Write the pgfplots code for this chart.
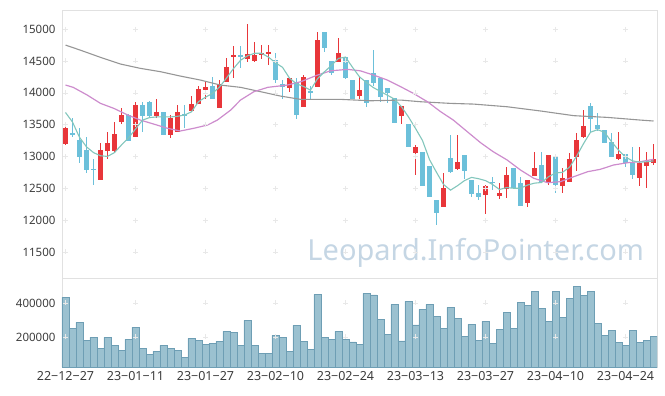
\documentclass[border=0pt]{standalone}
\usepackage{pgfplots}
\pgfplotsset{compat=1.18}
\usepackage{pgfplotstable}
\usepackage{fontspec}
\setmainfont{Noto Sans}
\definecolor{cup}{RGB}{232,54,58}
\definecolor{cdn}{RGB}{108,192,218}
\definecolor{maf}{RGB}{130,198,188}
\definecolor{mam}{RGB}{205,140,205}
\definecolor{mas}{RGB}{150,150,150}
\definecolor{volf}{RGB}{150,190,206}
\definecolor{vole}{RGB}{110,158,180}
\definecolor{gridc}{RGB}{225,225,225}
\definecolor{plusc}{RGB}{232,232,232}
\definecolor{labc}{RGB}{60,60,60}
\definecolor{wmc}{RGB}{197,214,228}

\pgfplotstableread{
i O H L C V
0 13195 13545 13180 13446 433500
1 13360 13603 13304 13345 251000
2 13257 13446 12896 12995 286500
3 13100 13304 12739 12786 180600
4 12805 12954 12551 12795 198000
5 12629 13205 12629 13100 133500
6 13090 13388 12954 13206 198000
7 13090 13545 13058 13351 151000
8 13545 13755 13509 13650 122000
9 13650 13670 13250 13250 186500
10 13300 13850 13300 13807 257000
11 13807 13850 13388 13640 133500
12 13860 13870 13600 13634 98000
13 13640 13896 13598 13697 116000
14 13700 13700 13340 13340 151000
15 13340 13645 13293 13598 133500
16 13388 13800 13388 13697 122000
17 13655 13802 13441 13645 80500
18 13717 13948 13717 13818 192000
19 13818 14105 13818 14058 180600
20 14050 14173 13901 14094 157000
21 14105 14242 13896 13896 163000
22 13755 14195 13755 14132 174700
23 14173 14540 14173 14398 233500
24 14565 14738 14226 14588 227600
25 14585 14738 14383 14570 151000
26 14524 15074 14487 14603 298000
27 14502 14800 14487 14592 151000
28 14587 14749 14524 14628 104000
29 14612 14749 14435 14644 104000
30 14513 14618 14147 14199 210000
31 14132 14199 13906 14094 198000
32 14079 14236 14010 14236 116000
33 14173 14226 13582 13650 268800
34 13780 14278 13780 14251 174700
35 14027 14105 13885 13990 127700
36 14094 14948 14094 14827 451000
37 14948 14948 14634 14697 198000
38 14498 14498 14278 14305 186500
39 14487 14866 14487 14618 233500
40 14556 14556 14210 14230 186500
41 14199 14199 13901 13901 170600
42 13945 14251 13905 14042 157000
43 14199 14199 13771 13834 457000
44 14304 14670 14113 14157 447000
45 14236 14236 13850 13937 304000
46 14073 14073 13846 14003 216000
47 13917 13917 13529 13529 392000
48 13640 13791 13506 13791 176500
49 13508 13508 13152 13152 410000
50 13058 13180 12708 13148 270600
51 13069 13069 12540 12540 363000
52 12852 12852 12367 12367 392000
53 12315 12315 11923 12116 321700
54 12198 12744 12198 12499 251000
55 12975 13336 12735 12750 374700
56 12802 13340 12786 12907 310000
57 13022 13022 12640 12775 204000
58 12629 12629 12358 12410 274700
59 12420 12551 12315 12367 180600
60 12394 12551 12091 12535 292000
61 12601 12672 12472 12590 163000
62 12378 12577 12331 12420 245000
63 12488 12838 12342 12708 345000
64 12813 12813 12499 12499 251000
65 12587 12681 12221 12221 404000
66 12264 12629 12201 12629 386500
67 12697 13064 12697 12822 469000
68 12865 13064 12603 12603 369000
69 12593 13022 12551 13022 292000
70 13011 13011 12421 12551 469000
71 12535 12813 12421 12656 316000
72 12603 13049 12603 12954 427600
73 12995 13372 12770 13257 498000
74 13309 13728 13284 13477 445000
75 13791 13833 13388 13582 469000
76 13493 13676 13404 13425 280600
77 13414 13414 13215 13215 210000
78 13221 13372 12995 12995 239400
79 12954 13388 12943 13038 169000
80 13038 13038 12838 12892 151000
81 12892 13143 12645 12708 239400
82 12656 13152 12540 12901 169000
83 12849 13074 12500 12917 180600
84 12901 13194 12865 12959 204000
}\ohlc

\pgfplotsset{
  base/.style={
    scale only axis, width=595pt,
    xmin=-0.5, xmax=84.5,
    axis line style={draw=gridc},
    major tick length=0pt,
    tick style={draw=none},
    ticklabel style={font=\fontsize{11.5}{13}\selectfont, text=labc},
    /pgf/number format/assume math mode=true,
    scaled ticks=false,
    xtick={0,10,20,30,40,50,60,70,80},
  },
  gridp/.style={only marks, mark=+, mark size=2.5pt, color=plusc, forget plot},
  cdl/.style={draw=none, mark=none, forget plot},
}

\begin{document}
\begin{tikzpicture}
\begin{axis}[base, name=top, height=268pt,
  ymin=11090, ymax=15300,
  ytick={11500,12000,12500,13000,13500,14000,14500,15000},
  yticklabels={11500,12000,12500,13000,13500,14000,14500,15000},
  xticklabels={},
  yticklabel style={xshift=-3pt}]
\pgfplotsinvokeforeach{11500,12000,12500,13000,13500,14000,14500,15000}{
  \addplot[gridp] coordinates {(0,#1)(10,#1)(20,#1)(30,#1)(40,#1)(50,#1)(60,#1)(70,#1)(80,#1)};
}
\node[text=wmc, font=\fontsize{29}{29}\selectfont] at (axis cs:58.6,11480) {Leopard.InfoPointer.com};

% wicks up
\addplot[cdl,
  restrict expr to domain={\thisrow{C}-\thisrow{O}}{0:1000000},
  error bars/.cd, y dir=both, y explicit, error mark=none,
  error bar style={line width=1pt, draw=cup}]
  table[x=i, y expr={(\thisrow{H}+\thisrow{L})/2}, y error expr={(\thisrow{H}-\thisrow{L})/2}] {\ohlc};
% wicks down
\addplot[cdl,
  restrict expr to domain={\thisrow{C}-\thisrow{O}}{-1000000:-0.5},
  error bars/.cd, y dir=both, y explicit, error mark=none,
  error bar style={line width=1pt, draw=cdn}]
  table[x=i, y expr={(\thisrow{H}+\thisrow{L})/2}, y error expr={(\thisrow{H}-\thisrow{L})/2}] {\ohlc};
% bodies up
\addplot[cdl,
  restrict expr to domain={\thisrow{C}-\thisrow{O}}{0:1000000},
  error bars/.cd, y dir=both, y explicit, error mark=none,
  error bar style={line width=5pt, draw=cup}]
  table[x=i, y expr={(\thisrow{O}+\thisrow{C})/2}, y error expr={max(abs(\thisrow{C}-\thisrow{O})/2,10)}] {\ohlc};
% bodies down
\addplot[cdl,
  restrict expr to domain={\thisrow{C}-\thisrow{O}}{-1000000:-0.5},
  error bars/.cd, y dir=both, y explicit, error mark=none,
  error bar style={line width=5pt, draw=cdn}]
  table[x=i, y expr={(\thisrow{O}+\thisrow{C})/2}, y error expr={max(abs(\thisrow{C}-\thisrow{O})/2,10)}] {\ohlc};

% MA60
\addplot[mas, line width=1.1pt, mark=none] coordinates {
(0,14749)(2.1,14670)(5,14556)(7.9,14450)(10.7,14383)(13.6,14330)(16.4,14262)(19.3,14199)(22.1,14121)(25,14085)(27.9,14016)(30.7,13948)(33.6,13896)(39.3,13896)(43.6,13874)(47.9,13885)(50.7,13859)(55,13833)(58.3,13822)(63.1,13780)(67.9,13713)(72.6,13640)(77.4,13613)(82.1,13571)(84,13556)};
% MA20
\addplot[mam, line width=1.2pt, mark=none] coordinates {
(0,14121)(1.1,14085)(3.1,13964)(5,13833)(6.9,13755)(8.9,13650)(10.7,13571)(12.6,13508)(14.6,13441)(16.4,13399)(18.3,13441)(20.3,13493)(21.7,13571)(23.6,13728)(25,13885)(26.9,14016)(28.9,14085)(31.7,14121)(33.6,14173)(36,14278)(37.9,14345)(40.3,14367)(42.1,14345)(44,14278)(46,14199)(47.9,14094)(49.7,13990)(51.7,13859)(53.6,13702)(55.4,13571)(57.4,13388)(59.3,13215)(61.1,13074)(63.1,12943)(65,12786)(66.9,12656)(68.9,12587)(70.7,12603)(72.6,12681)(74.6,12760)(76.4,12797)(78.3,12865)(80.3,12901)(82.1,12917)(84,12954)};
% MA5
\addplot[maf, line width=1.1pt, mark=none] coordinates {
(0,13690)(1,13540)(2,13300)(3,13150)(4,13060)(5,13010)(6,13000)(7,13060)(8,13180)(9,13290)(10,13430)(11,13570)(12,13610)(13,13620)(14,13620)(15,13620)(16,13630)(17,13650)(18,13700)(19,13860)(20,13930)(21,13990)(22,14090)(23,14230)(24,14380)(25,14510)(26,14580)(27,14620)(28,14620)(29,14560)(30,14470)(31,14400)(32,14230)(33,14140)(34,14100)(35,14040)(36,14220)(37,14330)(38,14430)(39,14540)(40,14560)(41,14400)(42,14250)(43,14160)(44,14080)(45,14020)(46,13960)(47,13900)(48,13780)(49,13620)(50,13440)(51,13250)(52,12950)(53,12750)(54,12560)(55,12470)(56,12540)(57,12620)(58,12670)(59,12650)(60,12620)(61,12560)(62,12480)(63,12510)(64,12500)(65,12500)(66,12550)(67,12580)(68,12590)(69,12680)(70,12740)(71,12750)(72,12830)(73,13000)(74,13200)(75,13380)(76,13420)(77,13380)(78,13230)(79,13100)(80,12990)(81,12930)(82,12910)(83,12915)(84,12930)};
\end{axis}

\begin{axis}[base, at={(top.south west)}, anchor=north west, height=89pt,
  ymin=23500, ymax=547000,
  ytick={200000,400000}, yticklabels={200000,400000},
  yticklabel style={xshift=-3pt},
  xticklabel style={yshift=-1pt, font=\fontsize{12.5}{13}\selectfont},
  xticklabels={22−12−27,23−01−11,23−01−27,23−02−10,23−02−24,23−03−13,23−03−27,23−04−10,23−04−24}]
\addplot[gridp] coordinates {(0,200000)(10,200000)(20,200000)(30,200000)(40,200000)(50,200000)(60,200000)(70,200000)(80,200000)};
\addplot[gridp] coordinates {(0,400000)(10,400000)(20,400000)(30,400000)(40,400000)(50,400000)(60,400000)(70,400000)(80,400000)};
\addplot[ybar, bar width=1, fill=volf, draw=vole, line width=0.8pt, fill opacity=0.95] table[x=i, y=V] {\ohlc};
\end{axis}
\path (top.north west) ++(-62pt,10pt) rectangle ++(665pt,-396pt);
\end{tikzpicture}
\end{document}
